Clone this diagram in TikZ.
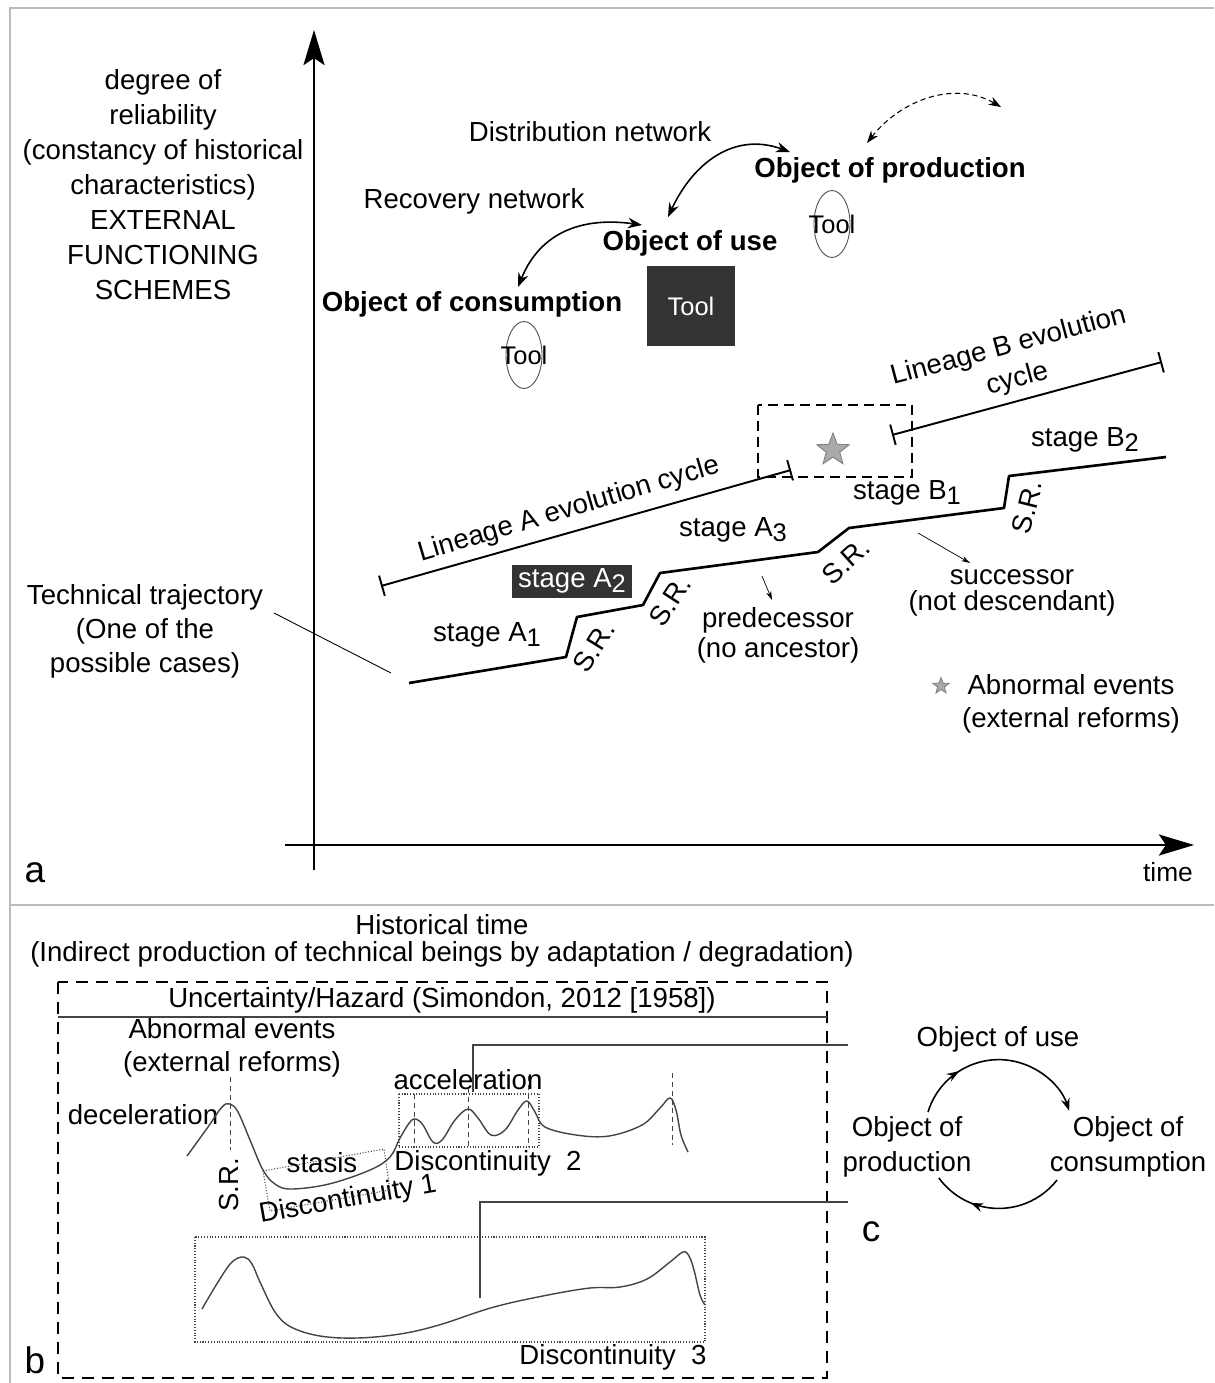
\documentclass[tikz,border=0pt]{standalone}
\usepackage{fontspec}
\setmainfont{Liberation Sans}
\usetikzlibrary{arrows.meta,shapes.geometric,decorations.markings}
\definecolor{toolgray}{HTML}{333333}
\definecolor{framegray}{HTML}{BBBBBB}
\definecolor{curvegray}{HTML}{444444}
\definecolor{stargray}{HTML}{AAAAAA}
\newcommand{\lowidx}[1]{\raisebox{-0.35ex}{\fontsize{14.5}{14.5}\selectfont #1}}

\begin{document}
\begin{tikzpicture}[x=0.02cm,y=-0.02cm,
    every node/.style={font=\fontsize{15.7}{19.9}\selectfont,inner sep=0pt,align=center},
    bold/.style={font=\fontsize{15.7}{19.9}\selectfont\bfseries},
    tooltext/.style={font=\fontsize{14.5}{14.5}\selectfont},
    toolbox/.style={fill=toolgray,text=white,minimum width=1.76cm,minimum height=1.62cm},
    toolring/.style={ellipse,draw=black!70,line width=0.5pt,minimum width=0.72cm,minimum height=1.34cm},
    stagebox/.style={fill=toolgray,text=white,minimum width=2.4cm,minimum height=0.66cm},
    panellabel/.style={font=\fontsize{21}{21}\selectfont},
    timeaxis/.style={line width=1.1pt,-{Stealth[length=20pt,width=12pt,inset=4pt]}},
    trajline/.style={line width=1.5pt,line join=round},
    lineage/.style={line width=1.1pt,{Bar[width=12pt]}-{Bar[width=12pt]}},
    netarrow/.style={line width=0.9pt,{Stealth[length=8pt,width=6pt]}-{Stealth[length=8pt,width=6pt]}},
    pointer/.style={line width=0.4pt,-{Stealth[length=5pt,width=3pt]}},
    eventstar/.style={star,star points=5,star point ratio=2.4,fill=stargray,draw=black!50,line width=0.5pt},
    wave/.style={curvegray,line width=0.8pt},
    dotbox/.style={curvegray,line width=0.6pt,densely dotted},
    peakline/.style={curvegray,line width=0.5pt,densely dashed},
    linkline/.style={curvegray,line width=0.7pt},
    hazardbox/.style={line width=1.4pt,dash pattern=on 0.24cm off 0.16cm},
    cyclearc/.style={line width=0.9pt},
    midtip/.style={postaction={decorate},decoration={markings,mark=at position #1 with {\arrow{Stealth[length=7pt,width=5pt]}}}}]

    \useasboundingbox (0,0) rectangle (1214,1383);
    \draw[framegray,line width=1.1pt] (10,1383) -- (10,8) -- (1214,8);
    \draw[framegray,line width=1.1pt] (10,905) -- (1214,905);

    \node (ylabel) at (163,185) {degree of\\reliability\\(constancy of historical\\characteristics)\\EXTERNAL\\FUNCTIONING\\SCHEMES};
    \node (trajlabel) at (145,631) {Technical trajectory\\[-0.02cm](One of the\\[-0.02cm]possible cases)};
    \node (lbla) [panellabel] at (35,873) {a};
    \node (time) [font=\fontsize{15}{15}\selectfont] at (1168,872) {time};

    \node (dist) at (590,132) {Distribution network};
    \node (recov) at (474,201) {Recovery network};
    \node (prod) [bold] at (890,170) {Object of production};
    \node (use) [bold] at (690,243) {Object of use};
    \node (cons) [bold] at (472,304) {Object of consumption};
    \node (ring1) [toolring] at (832,224) {};
    \node (tool1) [tooltext] at (832,224) {Tool};
    \node (tool2) [toolbox,tooltext] at (691,306) {Tool};
    \node (ring3) [toolring] at (524,355) {};
    \node (tool3) [tooltext] at (524,355) {Tool};

    \node (linA) [rotate=16.5] at (569,510) {Lineage A evolution cycle};
    \node (linB) [rotate=15] at (1013,363) {Lineage B evolution\\[-0.02cm]cycle};
    \node (stA1) at (487,635) {stage A\lowidx{1}};
    \node (stA2) [stagebox] at (572,581) {stage A\lowidx{2}};
    \node (stA3) at (733,530) {stage A\lowidx{3}};
    \node (stB1) at (907,493) {stage B\lowidx{1}};
    \node (stB2) at (1085,440) {stage B\lowidx{2}};
    \node (sr1) [rotate=58] at (594,647) {S.R.};
    \node (sr2) [rotate=57] at (670,601) {S.R.};
    \node (sr3) [rotate=42] at (846,561) {S.R.};
    \node (sr4) [rotate=76] at (1027,507) {S.R.};
    \node (pred) at (778,635) {predecessor\\[-0.1cm](no ancestor)};
    \node (succ) at (1012,593) {successor\\[-0.18cm](not descendant)};
    \node (star1) [eventstar,minimum size=0.68cm] at (833,450) {};
    \node (star2) [eventstar,minimum size=0.34cm] at (941,686) {};
    \node (legend) at (1071,704) {Abnormal events\\[-0.04cm](external reforms)};

    \coordinate (yfoot) at (314,870);
    \coordinate (ytip) at (314,30);
    \coordinate (xfoot) at (285,845);
    \coordinate (xtip) at (1194,845);
    \coordinate (t0) at (409,683);
    \coordinate (t1) at (566,657);
    \coordinate (t2) at (577,617);
    \coordinate (t3) at (643,605);
    \coordinate (t4) at (660,573);
    \coordinate (t5) at (818,552);
    \coordinate (t6) at (849,528);
    \coordinate (t7) at (1004,508);
    \coordinate (t8) at (1009,476);
    \coordinate (t9) at (1166,457);
    \coordinate (la0) at (381,586);
    \coordinate (la1) at (791,470);
    \coordinate (lb0) at (892,435);
    \coordinate (lb1) at (1162,362);
    \coordinate (du) at (668,217);
    \coordinate (dp) at (790,152);
    \coordinate (rc) at (518,287);
    \coordinate (ru) at (642,225);
    \coordinate (pp0) at (867,143);
    \coordinate (pp1) at (1001,107);
    \coordinate (tl0) at (274,613);
    \coordinate (tl1) at (391,673);
    \coordinate (pr0) at (762,576);
    \coordinate (pr1) at (772,600);
    \coordinate (su0) at (918,533);
    \coordinate (su1) at (970,563);
    \coordinate (ev0) at (758,405);
    \coordinate (ev1) at (912,477);

  \draw[timeaxis] (yfoot) -- (ytip);
  \draw[timeaxis] (xfoot) -- (xtip);

  \draw[netarrow] (du) to[out=65,in=160,looseness=1.1] (dp);
  \draw[netarrow] (rc) to[out=68,in=172,looseness=1.1] (ru);
  \draw[line width=0.6pt,dash pattern=on 3pt off 2pt,{Stealth[length=7pt,width=5pt]}-{Stealth[length=7pt,width=5pt]}] (pp0) to[out=52,in=150] (pp1);

  \draw[trajline] (t0) -- (t1) -- (t2) -- (t3) -- (t4) -- (t5) -- (t6) -- (t7) -- (t8) -- (t9);
  \draw[lineage] (la0) -- (la1);
  \draw[lineage] (lb0) -- (lb1);
  \draw[line width=0.9pt,dash pattern=on 0.2cm off 0.12cm] (ev0) rectangle (ev1);
  \draw[line width=0.5pt] (tl0) -- (tl1);
  \draw[pointer] (pr0) -- (pr1);
  \draw[pointer] (su0) -- (su1);

    \node (lblb) [panellabel] at (35,1360) {b};
    \node (histtime) at (442,941) {Historical time\\[-0.16cm](Indirect production of technical beings by adaptation / degradation)};
    \node (hazard) at (442,1000) {Uncertainty/Hazard (Simondon, 2012 [1958])};
    \node (abn) at (232,1048) {Abnormal events\\[-0.04cm](external reforms)};
    \node (decel) at (143,1115) {deceleration};
    \node (accel) at (468,1080) {acceleration};
    \node (stasis) at (322,1163) {stasis};
    \node (srb) [rotate=90] at (229,1185) {S.R.};
    \node (disc1) [rotate=10] at (348,1200) {Discontinuity 1};
    \node (disc2) at (488,1163) {Discontinuity\ \ 2};
    \node (disc3) at (613,1357) {Discontinuity\ \ 3};

    \coordinate (bx0) at (58,982);
    \coordinate (bx1) at (827,1378);
    \coordinate (hz0) at (58,1017);
    \coordinate (hz1) at (827,1017);
    \coordinate (up1) at (473,1092);
    \coordinate (cend1) at (848,1045);
    \coordinate (up2) at (480,1298);
    \coordinate (cend2) at (848,1202);

  \draw[hazardbox] (bx0) rectangle (bx1);
  \draw[linkline] (hz0) -- (hz1);
  \draw[linkline] (up1) |- (cend1);
  \draw[linkline] (up2) |- (cend2);

  \draw[wave] plot[smooth,tension=0.6] coordinates {(187,1156) (208,1127) (222,1107) (230,1104) (238,1112) (250,1140) (263,1170) (275,1184) (291,1189) (329,1184) (370,1170) (390,1157) (400,1138) (410,1122) (416,1119) (423,1125) (433,1142) (442,1140) (455,1120) (468,1109) (478,1118) (491,1135) (505,1130) (518,1110) (527,1101) (535,1112) (545,1127) (576,1135) (609,1136) (642,1125) (660,1108) (670,1098) (676,1110) (681,1135) (688,1152)};
  \draw[wave] plot[smooth,tension=0.6] coordinates {(202,1309) (218,1282) (232,1262) (244,1257) (252,1264) (260,1282) (275,1312) (291,1327) (320,1336) (357,1338) (400,1334) (439,1325) (494,1307) (548,1295) (590,1288) (620,1287) (647,1279) (670,1262) (683,1252) (689,1256) (694,1270) (700,1295) (705,1305)};
  \draw[dotbox] (399,1094) rectangle (539,1147);
  \draw[dotbox] (263,1171) -- (384,1149) -- (390,1190) -- (270,1211) -- cycle;
  \draw[dotbox] (195,1237) rectangle (705,1342);
  \draw[peakline] (230,1077) -- (230,1150);
  \draw[peakline] (414,1094) -- (414,1147);
  \draw[peakline] (468,1088) -- (468,1147);
  \draw[peakline] (528,1076) -- (528,1147);
  \draw[peakline] (672,1073) -- (672,1145);

    \node (cuse) at (998,1039) {Object of use};
    \node (cprod) at (907,1147) {Object of\\production};
    \node (ccons) at (1128,1147) {Object of\\consumption};
    \node (lblc) [panellabel] at (871,1232) {c};
    \coordinate (ctop) at (928,1112);
    \coordinate (cbot) at (1057,1180);

  \draw[cyclearc,midtip=0.28,-{Stealth[length=7pt,width=5pt]}] (ctop) arc[start angle=163,end angle=18,radius=1.48cm];
  \draw[cyclearc,midtip=0.7] (cbot) arc[start angle=-38,end angle=-144,radius=1.48cm];
\end{tikzpicture}
\end{document}
